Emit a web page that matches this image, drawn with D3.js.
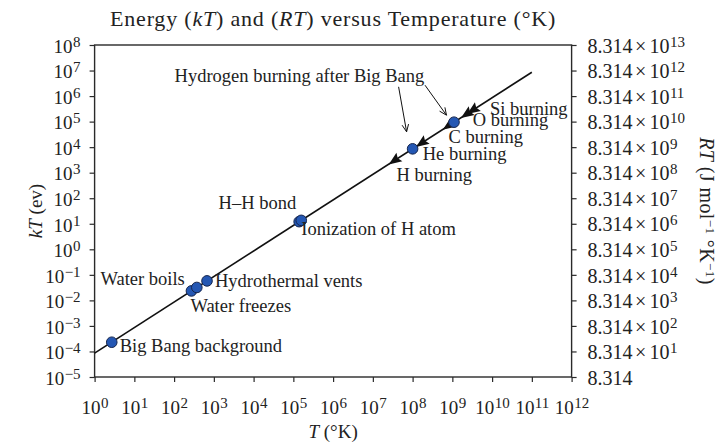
<!DOCTYPE html>
<html>
<head>
<meta charset="utf-8">
<script src="https://cdn.jsdelivr.net/npm/d3@7"></script>
<style>
  html, body { margin: 0; padding: 0; background: #fff; }
  svg { display: block; font-family: "Liberation Serif", "DejaVu Serif", serif; }
</style>
</head>
<body>
<svg id="chart" width="721" height="444"></svg>
<script>
// Temperature axis ticks (°K) and their exponent labels
const tempTicks = [1e0, 1e1, 1e2, 1e3, 1e4, 1e5, 1e6, 1e7, 1e8, 1e9, 1e10, 1e11, 1e12];
const tempTickExps = ["0","1","2","3","4","5","6","7","8","9","10","11","12"];

// kT axis ticks (eV)
const kTTicks = [1e-5, 1e-4, 1e-3, 1e-2, 1e-1, 1e0, 1e1, 1e2, 1e3, 1e4, 1e5, 1e6, 1e7, 1e8];
const kTTickExps = ["−5","−4","−3","−2","−1","0","1","2","3","4","5","6","7","8"];

// RT axis ticks (J mol⁻¹ °K⁻¹)
const rtTicks = [8.314, 8.314e1, 8.314e2, 8.314e3, 8.314e4, 8.314e5, 8.314e6, 8.314e7,
                 8.314e8, 8.314e9, 8.314e10, 8.314e11, 8.314e12, 8.314e13];
const rtTickExps = ["","1","2","3","4","5","6","7","8","9","10","11","12","13"];

// kT versus T line (end points)
const lineT  = [1, 1e11];
const lineKT = [8.6e-5, 8.6e6];

// Marked temperatures (circles)
const circleLabels = ["Big Bang background", "Water freezes", "Water boils", "Hydrothermal vents",
                      "H–H bond", "Ionization of H atom", "", ""];
const circleT  = [2.7, 273, 373, 673, 1.4e5, 1.58e5, 1e8, 1.1e9];
const circleKT = [2.3e-4, 0.0235, 0.0321, 0.058, 12.1, 13.6, 8.6e3, 9.5e4];

// Stellar burning stages (arrowheads on the line)
const burnLabels = ["H burning", "He burning", "C burning", "O burning", "Si burning"];
const burnT  = [3.5e7, 1.7e8, 8e8, 2.3e9, 3.3e9];
const burnKT = [3.0e3, 1.46e4, 6.9e4, 1.98e5, 2.84e5];

// Label placement relative to each mark: [dx, dy, anchor]
const labelOffsets = {
  "Big Bang background":  [8, 10, "start"],
  "Water freezes":        [-1, 21, "start"],
  "Water boils":          [-12, -2, "end"],
  "Hydrothermal vents":   [8, 6, "start"],
  "H–H bond":             [-3, -13, "end"],
  "Ionization of H atom": [0, 15, "start"],
  "H burning":            [2, 20, "start"],
  "He burning":           [1, 17, "start"],
  "C burning":            [0, 17.5, "start"],
  "O burning":            [6, 12, "start"],
  "Si burning":           [17, 4.5, "start"]
};

const noteText = "Hydrogen burning after Big Bang";

const svg = d3.select("#chart");
const W = 721, H = 444;
const m = { left: 94.6, right: 721 - 571.6, top: 45, bottom: 444 - 377 };
const x0 = m.left, x1 = W - m.right, y0 = H - m.bottom, y1 = m.top;

const x = d3.scaleLog().domain([1e0, 1e12]).range([x0, x1]);
const y = d3.scaleLog().domain([1e-5, 1e8]).range([y0, y1]);
const yR = d3.scaleLog().domain([8.314, 8.314e13]).range([y0, y1]);

const axisColor = "#2a2a2a";
const textColor = "#222";
const tickFont = 19, supFont = 15, supShift = -6;
const noteFont = 18.5;

function supLabel(textSel, parts, exp) {
  textSel.text(null);
  parts.forEach(p => textSel.append("tspan").attr("dx", p.dx || 0).text(p.t));
  if (exp !== "") {
    textSel.append("tspan").attr("dy", supShift).attr("dx", 0.5).attr("font-size", supFont).text(exp);
  }
}

// Bottom axis
const gx = svg.append("g").attr("transform", `translate(0,${y0})`)
  .call(d3.axisBottom(x).tickValues(tempTicks).tickSize(5).tickSizeOuter(0).tickFormat(() => ""));
gx.selectAll(".tick text").each(function(d, i) {
  const t = d3.select(this).attr("font-size", tickFont).attr("fill", textColor)
    .attr("font-family", "Liberation Serif").attr("y", 37).attr("dy", null);
  supLabel(t, [{ t: "10" }], tempTickExps[i]);
});

// Left axis
const gy = svg.append("g").attr("transform", `translate(${x0},0)`)
  .call(d3.axisLeft(y).tickValues(kTTicks).tickSize(5).tickSizeOuter(0).tickPadding(9).tickFormat(() => ""));
gy.selectAll(".tick text").each(function(d, i) {
  const t = d3.select(this).attr("font-size", tickFont).attr("fill", textColor)
    .attr("font-family", "Liberation Serif").attr("dy", "0.38em");
  supLabel(t, [{ t: "10" }], kTTickExps[i]);
});

// Right axis
const gr = svg.append("g").attr("transform", `translate(${x1},0)`)
  .call(d3.axisRight(yR).tickValues(rtTicks).tickSize(5).tickSizeOuter(0).tickPadding(11).tickFormat(() => ""));
gr.selectAll(".tick text").each(function(d, i) {
  const t = d3.select(this).attr("font-size", 20).attr("fill", textColor)
    .attr("font-family", "Liberation Serif").attr("dy", "0.36em");
  const parts = rtTickExps[i] === ""
    ? [{ t: "8.314" }]
    : [{ t: "8.314" }, { t: "×", dx: 2.5 }, { t: "10", dx: 3 }];
  supLabel(t, parts, rtTickExps[i]);
});

[gx, gy, gr].forEach(g => {
  g.selectAll("line").attr("stroke", axisColor).attr("stroke-width", 1.2);
  g.select(".domain").remove();
});

// Frame
svg.append("rect")
  .attr("x", x0).attr("y", y1).attr("width", x1 - x0).attr("height", y0 - y1)
  .attr("fill", "none").attr("stroke", axisColor).attr("stroke-width", 1.4);

// Title
const title = svg.append("text").attr("x", (x0 + x1) / 2).attr("y", 26)
  .attr("text-anchor", "middle").attr("font-size", 22).attr("letter-spacing", 0.8).attr("fill", textColor);
title.append("tspan").text("Energy (");
title.append("tspan").attr("font-style", "italic").text("kT");
title.append("tspan").text(") and (");
title.append("tspan").attr("font-style", "italic").text("RT");
title.append("tspan").text(") versus Temperature (°K)");

// X axis title
const xt = svg.append("text").attr("x", (x0 + x1) / 2).attr("y", 438)
  .attr("text-anchor", "middle").attr("font-size", 19).attr("fill", textColor);
xt.append("tspan").attr("font-style", "italic").text("T");
xt.append("tspan").text(" (°K)");

// Left axis title
const yt = svg.append("text").attr("transform", `translate(42,${(y0 + y1) / 2}) rotate(-90)`)
  .attr("text-anchor", "middle").attr("font-size", 19).attr("fill", textColor);
yt.append("tspan").attr("font-style", "italic").text("kT");
yt.append("tspan").text(" (ev)");

// Right axis title
const rt = svg.append("text").attr("transform", `translate(700,${(y0 + y1) / 2}) rotate(90)`)
  .attr("text-anchor", "middle").attr("font-size", 20).attr("letter-spacing", 0.4).attr("fill", textColor);
rt.append("tspan").attr("font-style", "italic").text("RT");
rt.append("tspan").text(" (J mol");
rt.append("tspan").attr("dy", -6).attr("font-size", 13).text("−1");
rt.append("tspan").attr("dy", 6).text(" °K");
rt.append("tspan").attr("dy", -6).attr("font-size", 13).text("−1");
rt.append("tspan").attr("dy", 6).text(")");

// kT line
const lineData = lineT.map((t, i) => [t, lineKT[i]]);
svg.append("path")
  .datum(lineData)
  .attr("d", d3.line().x(d => x(d[0])).y(d => y(d[1])))
  .attr("fill", "none").attr("stroke", "#111").attr("stroke-width", 1.6);

// Burning-stage arrowheads, pointing down the line
const dirAngle = Math.atan2(y(1e-5) - y(1e8), x(1e0) - x(1e12)) * 180 / Math.PI;
const burnData = burnT.map((t, i) => ({ name: burnLabels[i], T: t, kT: burnKT[i] }));
svg.append("g").selectAll("path").data(burnData).join("path")
  .attr("d", "M7,0 L-6,-5.2 L-4,0 L-6,5.2 Z")
  .attr("transform", d => `translate(${x(d.T)},${y(d.kT)}) rotate(${dirAngle})`)
  .attr("fill", "#111");

// Circles
const circleData = circleT.map((t, i) => ({ name: circleLabels[i], T: t, kT: circleKT[i] }));
svg.append("g").selectAll("circle").data(circleData).join("circle")
  .attr("cx", d => x(d.T)).attr("cy", d => y(d.kT)).attr("r", 5.3)
  .attr("fill", "#2457b3").attr("stroke", "#15254d").attr("stroke-width", 1);

// Labels
const labelled = circleData.filter(d => d.name !== "").concat(burnData);
svg.append("g").selectAll("text").data(labelled).join("text")
  .attr("x", d => x(d.T) + labelOffsets[d.name][0])
  .attr("y", d => y(d.kT) + labelOffsets[d.name][1])
  .attr("text-anchor", d => labelOffsets[d.name][2])
  .attr("font-size", noteFont).attr("fill", textColor)
  .text(d => d.name);

// Note with two arrows to the post-Big-Bang hydrogen burning points
const heP = circleData[6], oP = circleData[7];
const noteX = x(heP.T) - 238, noteY = y(heP.kT) - 67;
svg.append("text").attr("x", noteX).attr("y", noteY)
  .attr("font-size", noteFont).attr("fill", textColor).text(noteText);

const arrows = [
  { from: [x(heP.T) - 14, y(heP.kT) - 62], to: [x(heP.T) - 6, y(heP.kT) - 17] },
  { from: [x(oP.T) - 29, y(oP.kT) - 37], to: [x(oP.T) - 7.5, y(oP.kT) - 7] }
];
const ag = svg.append("g").attr("stroke", "#111").attr("stroke-width", 1).attr("fill", "none");
arrows.forEach(a => {
  ag.append("line").attr("x1", a.from[0]).attr("y1", a.from[1]).attr("x2", a.to[0]).attr("y2", a.to[1]);
  const ang = Math.atan2(a.to[1] - a.from[1], a.to[0] - a.from[0]);
  const L = 8, spread = 0.42;
  const p1 = [a.to[0] - L * Math.cos(ang - spread), a.to[1] - L * Math.sin(ang - spread)];
  const p2 = [a.to[0] - L * Math.cos(ang + spread), a.to[1] - L * Math.sin(ang + spread)];
  ag.append("path").attr("d", `M${p1[0]},${p1[1]} L${a.to[0]},${a.to[1]} L${p2[0]},${p2[1]}`);
});
</script>
</body>
</html>
